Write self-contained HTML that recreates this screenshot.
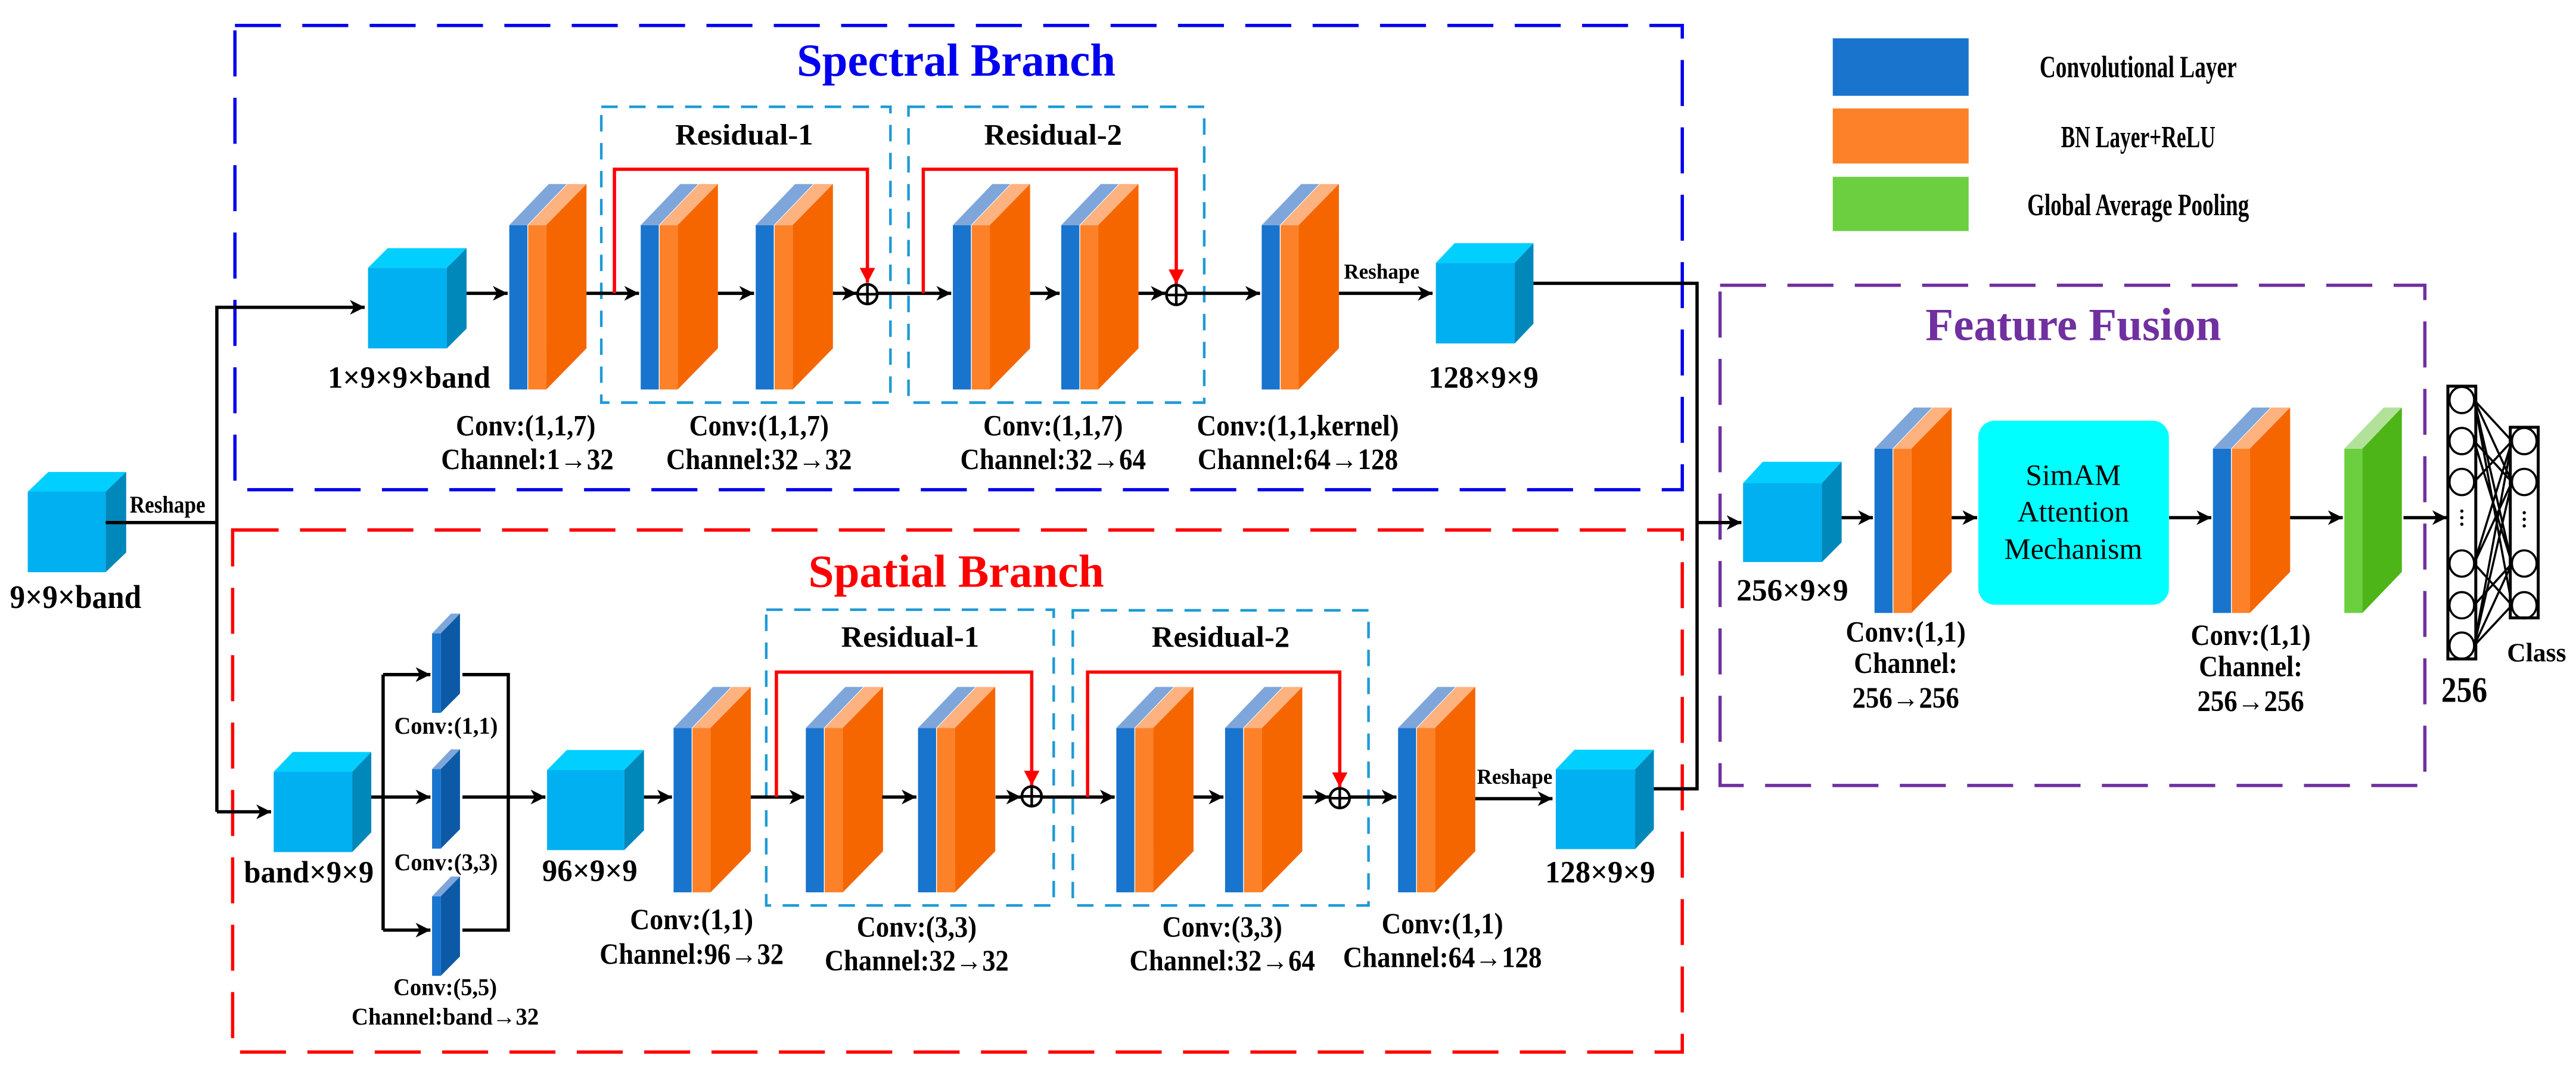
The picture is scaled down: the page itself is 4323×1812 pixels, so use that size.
<!DOCTYPE html>
<html><head><meta charset="utf-8"><style>
html,body{margin:0;padding:0;background:#fff}
svg{display:block}
text{font-family:"Liberation Serif",serif;font-weight:bold;fill:#000}
</style></head><body>
<svg xmlns="http://www.w3.org/2000/svg" width="4323" height="1812" viewBox="0 0 1568 657.2" preserveAspectRatio="none">
<defs>
<marker id="ah" markerUnits="userSpaceOnUse" markerWidth="10" markerHeight="10" viewBox="0 0 10 10" refX="9" refY="5" orient="auto"><path d="M0,0.5 L9,5 L0,9.5 L2.5,5 Z" fill="#000"/></marker>
<marker id="rh" markerUnits="userSpaceOnUse" markerWidth="10" markerHeight="10" viewBox="0 0 10 10" refX="5" refY="9" orient="0"><path d="M0.3,0 L9.7,0 L5,9 Z" fill="#f00"/></marker>
<g id="L">
<rect x="0" y="0" width="11" height="100" fill="#1874cd"/>
<rect x="11.5" y="0" width="11" height="100" fill="#fd8128"/>
<polygon points="0,0 11,0 35,-25 24,-25" fill="#7ea6da"/>
<polygon points="11.5,0 22.5,0 47,-25 35.5,-25" fill="#fdb27f"/>
<polygon points="22.5,0 47,-25 47,75 22.5,100" fill="#f56600"/>
</g>
<g id="S">
<rect x="0" y="0" width="5.3" height="48.4" fill="#1874cd"/>
<polygon points="0,0 5.3,0 17,-12 11.5,-12" fill="#7ea6da"/>
<polygon points="5.3,0 17,-12 17,36.6 5.3,48.4" fill="#0c5aa6"/>
</g>
</defs>

<rect x="143" y="15.5" width="881" height="282.5" fill="none" stroke="#0000ee" stroke-width="2" stroke-dasharray="28,13"/>
<rect x="141.6" y="322.5" width="882.4" height="317.7" fill="none" stroke="#ff0000" stroke-width="2" stroke-dasharray="28,13"/>
<rect x="1047" y="173.6" width="429" height="304.4" fill="none" stroke="#7030a0" stroke-width="2" stroke-dasharray="28,13"/>

<g fill="none" stroke="#1e9ad6" stroke-width="1.6" stroke-dasharray="10,7">
<rect x="366" y="65" width="176" height="180"/>
<rect x="553" y="65" width="180" height="180"/>
<rect x="466.4" y="371" width="175" height="180"/>
<rect x="653" y="371.4" width="180" height="179.6"/>
</g>

<text x="582" y="46" font-size="28" style="fill:#0000ee" text-anchor="middle" textLength="194" lengthAdjust="spacingAndGlyphs">Spectral Branch</text>
<text x="582" y="357" font-size="28" style="fill:#ff0000" text-anchor="middle" textLength="180" lengthAdjust="spacingAndGlyphs">Spatial Branch</text>
<text x="1262" y="207" font-size="28" style="fill:#7030a0" text-anchor="middle" textLength="180" lengthAdjust="spacingAndGlyphs">Feature Fusion</text>
<g font-size="18" text-anchor="middle">
<text x="453" y="88" textLength="84" lengthAdjust="spacingAndGlyphs">Residual-1</text>
<text x="641" y="88" textLength="84" lengthAdjust="spacingAndGlyphs">Residual-2</text>
<text x="554" y="393.5" textLength="84" lengthAdjust="spacingAndGlyphs">Residual-1</text>
<text x="743" y="393.5" textLength="84" lengthAdjust="spacingAndGlyphs">Residual-2</text>
</g>

<rect x="1115.6" y="23.3" width="82.7" height="35" fill="#1874cd"/>
<rect x="1115.6" y="66" width="82.7" height="33.5" fill="#fd8128"/>
<rect x="1115.6" y="107.6" width="82.7" height="33" fill="#6ccf3f"/>
<g font-size="19" text-anchor="middle">
<text x="1301.5" y="47" textLength="120" lengthAdjust="spacingAndGlyphs">Convolutional Layer</text>
<text x="1301.5" y="89.5" textLength="94" lengthAdjust="spacingAndGlyphs">BN Layer+ReLU</text>
<text x="1301.5" y="131" textLength="135" lengthAdjust="spacingAndGlyphs">Global Average Pooling</text>
</g>

<g>
<polygon points="16.9,299.2 29.4,287.2 76.8,287.2 64.3,299.2" fill="#00cfff"/>
<rect x="16.9" y="299.2" width="47.4" height="49" fill="#00b0f0"/>
<polygon points="64.3,299.2 76.8,287.2 76.8,336.2 64.3,348.2" fill="#0088bb"/>
<polygon points="224,163 236,151 284,151 272,163" fill="#00cfff"/>
<rect x="224" y="163" width="48" height="49" fill="#00b0f0"/>
<polygon points="272,163 284,151 284,200 272,212" fill="#0088bb"/>
<polygon points="874,160 885.4,148 933.4,148 922,160" fill="#00cfff"/>
<rect x="874" y="160" width="48" height="49" fill="#00b0f0"/>
<polygon points="922,160 933.4,148 933.4,197 922,209" fill="#0088bb"/>
<polygon points="166.6,469.7 178.2,457.6 226,457.6 214.4,469.7" fill="#00cfff"/>
<rect x="166.6" y="469.7" width="47.8" height="48.8" fill="#00b0f0"/>
<polygon points="214.4,469.7 226,457.6 226,506.5 214.4,518.5" fill="#0088bb"/>
<polygon points="333,468.6 345,456.4 392,456.4 380,468.6" fill="#00cfff"/>
<rect x="333" y="468.6" width="47" height="48.7" fill="#00b0f0"/>
<polygon points="380,468.6 392,456.4 392,505.3 380,517.3" fill="#0088bb"/>
<polygon points="947,468.2 958.4,456.2 1006.7,456.2 995.3,468.2" fill="#00cfff"/>
<rect x="947" y="468.2" width="48.3" height="48.5" fill="#00b0f0"/>
<polygon points="995.3,468.2 1006.7,456.2 1006.7,504.7 995.3,516.7" fill="#0088bb"/>
<polygon points="1061,294 1073,281 1121,281 1109,294" fill="#00cfff"/>
<rect x="1061" y="294" width="48" height="48" fill="#00b0f0"/>
<polygon points="1109,294 1121,281 1121,330 1109,342" fill="#0088bb"/>
</g>

<use href="#L" x="310" y="137"/>
<use href="#L" x="390" y="137"/>
<use href="#L" x="460" y="137"/>
<use href="#L" x="580" y="137"/>
<use href="#L" x="646" y="137"/>
<use href="#L" x="768" y="137"/>
<use href="#L" x="410" y="443"/>
<use href="#L" x="490.5" y="443"/>
<use href="#L" x="558.8" y="443"/>
<use href="#L" x="679.5" y="443"/>
<use href="#L" x="745.7" y="443"/>
<use href="#L" x="851" y="443"/>
<use href="#L" x="1141" y="273"/>
<use href="#L" x="1347" y="273"/>
<rect x="1427" y="273" width="11" height="100" fill="#6ccf3f"/>
<polygon points="1427,273 1438,273 1462,248 1451,248" fill="#b2e29a"/>
<polygon points="1438,273 1462,248 1462,348 1438,373" fill="#4db517"/>

<use href="#S" x="263" y="385.4"/>
<use href="#S" x="263" y="468"/>
<use href="#S" x="263" y="545.4"/>

<rect x="1204.2" y="256" width="116" height="112" rx="10" fill="#00ffff"/>
<g font-size="18" text-anchor="middle">
<text x="1262" y="295" style="font-weight:normal">SimAM</text>
<text x="1262" y="317.4" style="font-weight:normal">Attention</text>
<text x="1262" y="340" style="font-weight:normal">Mechanism</text>
</g>

<g fill="none" stroke="#000" stroke-width="2">
<polyline points="64.3,318 132,318"/>
<polyline points="132,494 132,187 222,187" marker-end="url(#ah)"/>
<line x1="132" y1="494" x2="165" y2="494" marker-end="url(#ah)"/>
<line x1="284" y1="178.5" x2="309" y2="178.5" marker-end="url(#ah)"/>
<line x1="357" y1="178.5" x2="389" y2="178.5" marker-end="url(#ah)"/>
<line x1="437" y1="178.5" x2="459" y2="178.5" marker-end="url(#ah)"/>
<line x1="507" y1="178.5" x2="521.5" y2="178.5" marker-end="url(#ah)"/>
<line x1="534" y1="178.5" x2="579" y2="178.5" marker-end="url(#ah)"/>
<line x1="627" y1="178.5" x2="645" y2="178.5" marker-end="url(#ah)"/>
<line x1="693" y1="178.5" x2="709.5" y2="178.5" marker-end="url(#ah)"/>
<line x1="722" y1="178.5" x2="767" y2="178.5" marker-end="url(#ah)"/>
<line x1="815" y1="178.5" x2="872" y2="178.5" marker-end="url(#ah)"/>
<polyline points="933.4,172.4 1033,172.4 1033,480 1006.7,480"/>
<line x1="1033" y1="318" x2="1060" y2="318" marker-end="url(#ah)"/>
<line x1="226" y1="485" x2="262" y2="485" marker-end="url(#ah)"/>
<polyline points="233.2,410.5 233.2,566"/>
<line x1="233.2" y1="410.5" x2="262" y2="410.5" marker-end="url(#ah)"/>
<line x1="233.2" y1="566" x2="262" y2="566" marker-end="url(#ah)"/>
<polyline points="281.5,410.5 309.4,410.5 309.4,566 281.5,566"/>
<line x1="281.5" y1="485" x2="332" y2="485" marker-end="url(#ah)"/>
<line x1="392" y1="485" x2="409" y2="485" marker-end="url(#ah)"/>
<line x1="457" y1="485" x2="489.5" y2="485" marker-end="url(#ah)"/>
<line x1="537" y1="485" x2="557.8" y2="485" marker-end="url(#ah)"/>
<line x1="606" y1="485" x2="621.5" y2="485" marker-end="url(#ah)"/>
<line x1="634" y1="485" x2="678.5" y2="485" marker-end="url(#ah)"/>
<line x1="726.5" y1="485" x2="744.7" y2="485" marker-end="url(#ah)"/>
<line x1="793" y1="485" x2="809" y2="485" marker-end="url(#ah)"/>
<line x1="821.5" y1="485" x2="850" y2="485" marker-end="url(#ah)"/>
<line x1="898" y1="486" x2="945" y2="486" marker-end="url(#ah)"/>
<line x1="1121" y1="315" x2="1140" y2="315" marker-end="url(#ah)"/>
<line x1="1188" y1="315" x2="1203.5" y2="315" marker-end="url(#ah)"/>
<line x1="1320.3" y1="315" x2="1346" y2="315" marker-end="url(#ah)"/>
<line x1="1394" y1="315" x2="1426" y2="315" marker-end="url(#ah)"/>
<line x1="1463" y1="315" x2="1489.5" y2="315" marker-end="url(#ah)"/>
</g>

<g fill="none" stroke="#ff0000" stroke-width="2">
<polyline points="374,178.5 374,103 528,103 528,172" marker-end="url(#rh)"/>
<polyline points="562,178.5 562,103 716,103 716,173" marker-end="url(#rh)"/>
<polyline points="472.6,485 472.6,409 628,409 628,478" marker-end="url(#rh)"/>
<polyline points="662,485 662,409 815.5,409 815.5,479" marker-end="url(#rh)"/>
</g>

<g fill="#fff" stroke="#000" stroke-width="1.6">
<circle cx="528" cy="179" r="6"/><path d="M522,179 H534 M528,173 V185"/>
<circle cx="716" cy="179.5" r="6"/><path d="M710,179.5 H722 M716,173.5 V185.5"/>
<circle cx="628" cy="484.6" r="6"/><path d="M622,484.6 H634 M628,478.6 V490.6"/>
<circle cx="815.5" cy="485.7" r="6"/><path d="M809.5,485.7 H821.5 M815.5,479.7 V491.7"/>
</g>

<g fill="none" stroke="#000" stroke-width="1.3">
<rect x="1490" y="235" width="17" height="166" stroke-width="1.8"/>
<rect x="1528" y="260" width="17" height="116" stroke-width="1.8"/>
<ellipse cx="1498.5" cy="243.4" rx="7.5" ry="8"/>
<ellipse cx="1498.5" cy="268.4" rx="7.5" ry="8"/>
<ellipse cx="1498.5" cy="293.3" rx="7.5" ry="8"/>
<ellipse cx="1498.5" cy="342.9" rx="7.5" ry="8"/>
<ellipse cx="1498.5" cy="368.3" rx="7.5" ry="8"/>
<ellipse cx="1498.5" cy="392.9" rx="7.5" ry="8"/>
<ellipse cx="1536.5" cy="268.4" rx="7.5" ry="8"/>
<ellipse cx="1536.5" cy="293.3" rx="7.5" ry="8"/>
<ellipse cx="1536.5" cy="342.9" rx="7.5" ry="8"/>
<ellipse cx="1536.5" cy="368.3" rx="7.5" ry="8"/>
<path d="M1506,243.4 L1529,268.4 M1506,243.4 L1529,293.3 M1506,243.4 L1529,342.9 M1506,243.4 L1529,368.3
M1506,268.4 L1529,293.3 M1506,268.4 L1529,342.9 M1506,293.3 L1529,268.4
M1506,342.9 L1529,268.4 M1506,342.9 L1529,293.3 M1506,342.9 L1529,368.3
M1506,368.3 L1529,342.9 M1506,392.9 L1529,268.4 M1506,392.9 L1529,293.3 M1506,392.9 L1529,342.9 M1506,392.9 L1529,368.3"/>
</g>
<g fill="#000">
<circle cx="1498.5" cy="311" r="1"/><circle cx="1498.5" cy="315" r="1"/><circle cx="1498.5" cy="319" r="1"/>
<circle cx="1536.5" cy="312" r="1"/><circle cx="1536.5" cy="316" r="1"/><circle cx="1536.5" cy="320" r="1"/>
</g>
<text x="1500" y="427" font-size="22" text-anchor="middle" textLength="28" lengthAdjust="spacingAndGlyphs">256</text>
<text x="1544" y="402.5" font-size="16" text-anchor="middle" textLength="36" lengthAdjust="spacingAndGlyphs">Class</text>

<g text-anchor="middle">
<text x="102" y="312" font-size="14.5" textLength="46" lengthAdjust="spacingAndGlyphs">Reshape</text>
<text x="46" y="370" font-size="20" textLength="80" lengthAdjust="spacingAndGlyphs">9×9×band</text>
<text x="249" y="236" font-size="19" textLength="99" lengthAdjust="spacingAndGlyphs">1×9×9×band</text>
<text x="841" y="169.5" font-size="13" textLength="46" lengthAdjust="spacingAndGlyphs">Reshape</text>
<text x="903" y="236" font-size="19" textLength="67" lengthAdjust="spacingAndGlyphs">128×9×9</text>

<text x="320" y="265" font-size="18" textLength="85" lengthAdjust="spacingAndGlyphs">Conv:(1,1,7)</text>
<text x="321" y="285.5" font-size="18" textLength="105" lengthAdjust="spacingAndGlyphs">Channel:1→32</text>
<text x="462" y="265" font-size="18" textLength="85" lengthAdjust="spacingAndGlyphs">Conv:(1,1,7)</text>
<text x="462" y="285.5" font-size="18" textLength="113" lengthAdjust="spacingAndGlyphs">Channel:32→32</text>
<text x="641" y="265" font-size="18" textLength="85" lengthAdjust="spacingAndGlyphs">Conv:(1,1,7)</text>
<text x="641" y="285.5" font-size="18" textLength="113" lengthAdjust="spacingAndGlyphs">Channel:32→64</text>
<text x="790" y="265" font-size="18" textLength="123" lengthAdjust="spacingAndGlyphs">Conv:(1,1,kernel)</text>
<text x="790" y="285.5" font-size="18" textLength="122" lengthAdjust="spacingAndGlyphs">Channel:64→128</text>

<text x="188" y="537" font-size="19" textLength="79" lengthAdjust="spacingAndGlyphs">band×9×9</text>
<text x="359" y="536" font-size="19" textLength="58" lengthAdjust="spacingAndGlyphs">96×9×9</text>
<text x="974" y="537" font-size="19" textLength="67" lengthAdjust="spacingAndGlyphs">128×9×9</text>
<text x="922" y="477" font-size="13" textLength="46" lengthAdjust="spacingAndGlyphs">Reshape</text>

<text x="271.5" y="446.5" font-size="14.5" textLength="63" lengthAdjust="spacingAndGlyphs">Conv:(1,1)</text>
<text x="271.5" y="529.5" font-size="14.5" textLength="63" lengthAdjust="spacingAndGlyphs">Conv:(3,3)</text>
<text x="271" y="605.5" font-size="14.5" textLength="63" lengthAdjust="spacingAndGlyphs">Conv:(5,5)</text>
<text x="271" y="623.5" font-size="14.5" textLength="114" lengthAdjust="spacingAndGlyphs">Channel:band→32</text>

<text x="421" y="565.5" font-size="18" textLength="75" lengthAdjust="spacingAndGlyphs">Conv:(1,1)</text>
<text x="421" y="586.5" font-size="18" textLength="112" lengthAdjust="spacingAndGlyphs">Channel:96→32</text>
<text x="558" y="570" font-size="18" textLength="73" lengthAdjust="spacingAndGlyphs">Conv:(3,3)</text>
<text x="558" y="590.5" font-size="18" textLength="112" lengthAdjust="spacingAndGlyphs">Channel:32→32</text>
<text x="744" y="570" font-size="18" textLength="73" lengthAdjust="spacingAndGlyphs">Conv:(3,3)</text>
<text x="744" y="590.5" font-size="18" textLength="113" lengthAdjust="spacingAndGlyphs">Channel:32→64</text>
<text x="878" y="568" font-size="18" textLength="74" lengthAdjust="spacingAndGlyphs">Conv:(1,1)</text>
<text x="878" y="588.5" font-size="18" textLength="121" lengthAdjust="spacingAndGlyphs">Channel:64→128</text>

<text x="1091" y="365.5" font-size="19" textLength="68" lengthAdjust="spacingAndGlyphs">256×9×9</text>
<text x="1160" y="390.5" font-size="18" textLength="73" lengthAdjust="spacingAndGlyphs">Conv:(1,1)</text>
<text x="1160" y="409.5" font-size="18" textLength="63" lengthAdjust="spacingAndGlyphs">Channel:</text>
<text x="1160" y="430.5" font-size="18" textLength="65" lengthAdjust="spacingAndGlyphs">256→256</text>
<text x="1370" y="392.5" font-size="18" textLength="73" lengthAdjust="spacingAndGlyphs">Conv:(1,1)</text>
<text x="1370" y="411.5" font-size="18" textLength="63" lengthAdjust="spacingAndGlyphs">Channel:</text>
<text x="1370" y="432.5" font-size="18" textLength="65" lengthAdjust="spacingAndGlyphs">256→256</text>
</g>
</svg>
</body></html>
